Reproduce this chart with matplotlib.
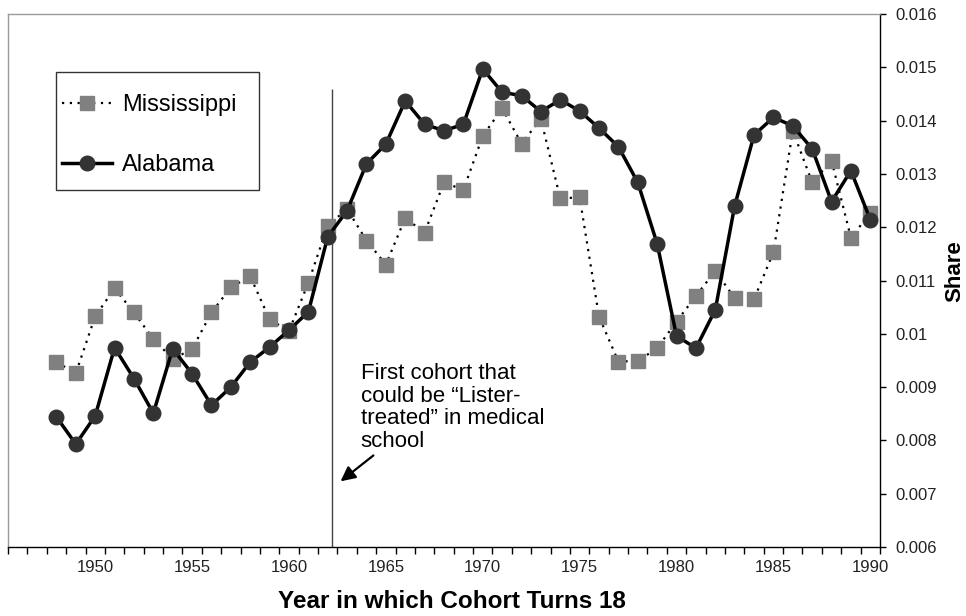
import numpy as np
import matplotlib
matplotlib.use("Agg")
import matplotlib.pyplot as plt
from matplotlib.patches import Rectangle

plt.rcParams['font.family'] = ['Liberation Sans', 'DejaVu Sans']

years = list(range(1948, 1991))
mississippi = [0.00947, 0.00926, 0.01033, 0.01085, 0.01040, 0.00990, 0.00953, 0.00971,
               0.01040, 0.01087, 0.01108, 0.01027, 0.01005, 0.01096, 0.01203, 0.01234,
               0.01175, 0.01130, 0.01217, 0.01190, 0.01284, 0.01270, 0.01371, 0.01423,
               0.01357, 0.01403, 0.01254, 0.01256, 0.01032, 0.00948, 0.00949, 0.00973,
               0.01023, 0.01071, 0.01118, 0.01067, 0.01065, 0.01153, 0.01381, 0.01284,
               0.01325, 0.01180, 0.01227]
alabama = [0.00844, 0.00793, 0.00846, 0.00974, 0.00916, 0.00851, 0.00972, 0.00925,
           0.00866, 0.00900, 0.00947, 0.00975, 0.01007, 0.01041, 0.01182, 0.01231,
           0.01319, 0.01356, 0.01437, 0.01393, 0.01381, 0.01393, 0.01497, 0.01453,
           0.01447, 0.01417, 0.01439, 0.01418, 0.01386, 0.01351, 0.01284, 0.01169,
           0.00996, 0.00973, 0.01045, 0.01240, 0.01373, 0.01406, 0.01390, 0.01347,
           0.01248, 0.01306, 0.01214]

xtick_labels = ['1950', '1955', '1960', '1965', '1970', '1975', '1980', '1985', '1990']
ytick_values = [0.006, 0.007, 0.008, 0.009, 0.010, 0.011, 0.012, 0.013, 0.014, 0.015, 0.016]
ytick_labels = ['0.006', '0.007', '0.008', '0.009', '0.01', '0.011', '0.012', '0.013',
                '0.014', '0.015', '0.016']
annotation_text = "First cohort that\ncould be \u201cLister-\ntreated\u201d in medical\nschool"

fig = plt.figure(figsize=(9.66, 6.16), dpi=100)
W, H = 966, 616
ax = fig.add_axes([8 / W, 1 - 547 / H, 872 / W, 533 / H])

ax.plot(years, mississippi, linestyle=(0, (1, 2.5)), color='black', lw=1.6,
        marker='s', markersize=10, markerfacecolor='#808080', markeredgecolor='#808080',
        label='Mississippi', zorder=3)
ax.plot(years, alabama, linestyle='-', color='black', lw=2.5,
        marker='o', markersize=10.5, markerfacecolor='#333333', markeredgecolor='#333333',
        label='Alabama', zorder=4)

ax.set_xlim(1945.5, 1990.5)
ax.set_ylim(0.006, 0.016)

# vertical line marking first cohort
ax.vlines(1962.2, 0.006, 0.01459, color='#444444', lw=1.0, zorder=2)

ax.annotate('', xy=(1962.55, 0.0072), xytext=(1964.47, 0.00775),
            arrowprops=dict(arrowstyle='-|>', color='black', lw=1.6, mutation_scale=22))
ax.text(1963.7, 0.00946, annotation_text, fontsize=16, va='top', ha='left',
        linespacing=1.12, color='black')

# axes styling
for s in ['top', 'left']:
    ax.spines[s].set_color('#9a9a9a')
    ax.spines[s].set_linewidth(1.0)
for s in ['bottom', 'right']:
    ax.spines[s].set_color('black')
    ax.spines[s].set_linewidth(1.0)

ax.set_xticks([int(t) for t in xtick_labels])
ax.set_xticklabels(xtick_labels)
ax.set_xticks(np.arange(1945.5, 1991, 1.0), minor=True)
ax.tick_params(axis='x', which='major', length=0, pad=9, labelsize=12, labelcolor='#222222')
ax.tick_params(axis='x', which='minor', length=5, direction='out', color='black', width=1)

ax.yaxis.tick_right()
ax.set_yticks(ytick_values)
ax.set_yticklabels(ytick_labels)
ax.tick_params(axis='y', which='major', length=4, direction='out', pad=7, labelsize=12,
               labelcolor='#222222', color='black', width=1)

ax.set_xlabel('Year in which Cohort Turns 18', fontsize=17.5, fontweight='bold')
ax.xaxis.set_label_coords((452 - 8) / 872, (547 - 590) / 533)
ax.text((955 - 8) / 872, (547 - 271) / 533, 'Share', transform=ax.transAxes,
        rotation=90, ha='center', va='center', fontsize=16, fontweight='bold')

# legend frame drawn separately so padding matches
frame = Rectangle((56 / W, 1 - 190 / H), (259 - 56) / W, (190 - 72) / H,
                  transform=fig.transFigure, facecolor='white',
                  edgecolor='#333333', lw=1.0, zorder=5, clip_on=False)
ax.add_patch(frame)
leg = ax.legend(loc='upper left', bbox_to_anchor=((62 - 8) / 872, (547 - 94) / 533),
                borderaxespad=0, fontsize=17, frameon=False, handlelength=2.1,
                handletextpad=0.45, labelspacing=1.62, borderpad=0)
leg.set_zorder(6)

fig.savefig('out.png', dpi=100)
